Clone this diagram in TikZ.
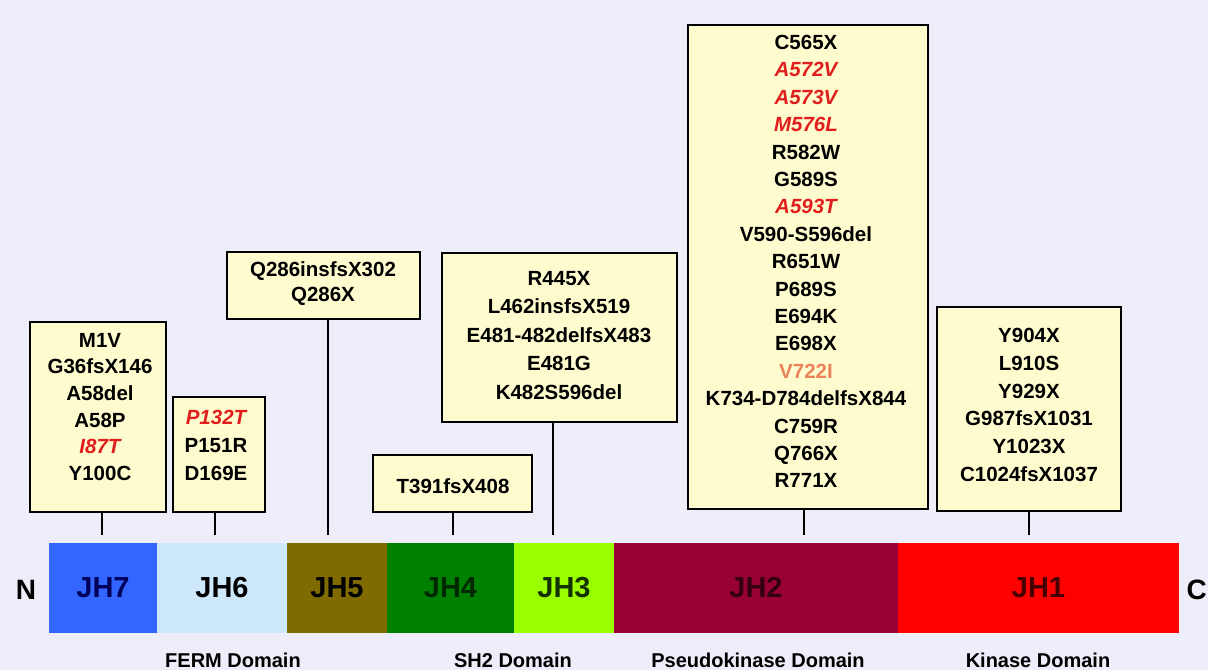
\documentclass[tikz,border=0pt]{standalone}
\usepackage{fontspec}
\setmainfont{Liberation Sans}
\definecolor{bg}{RGB}{237,238,249}
\definecolor{boxfill}{RGB}{254,252,206}
\definecolor{cJHseven}{RGB}{51,102,255}
\definecolor{cJHsix}{RGB}{204,232,250}
\definecolor{cJHfive}{RGB}{128,107,0}
\definecolor{cJHfour}{RGB}{0,128,0}
\definecolor{cJHthree}{RGB}{153,255,0}
\definecolor{cJHtwo}{RGB}{153,0,51}
\definecolor{cJHone}{RGB}{255,0,0}
\definecolor{redtxt}{RGB}{225,30,30}
\definecolor{orangetxt}{RGB}{235,130,90}
\newcommand\redit[1]{\textcolor{redtxt}{\itshape #1}}
\begin{document}
\begin{tikzpicture}[x=1pt,y=-1pt,
  mbox/.style={draw=black, line width=2pt, fill=boxfill, inner sep=0pt},
  mtext/.style={align=center, inner sep=0pt, anchor=north, font=\fontsize{20.5}{#1}\selectfont\bfseries},
  seg/.style={draw=none, inner sep=0pt, minimum height=90pt, font=\fontsize{29}{30}\selectfont\bfseries},
  conn/.style={line width=2pt},
  dlabel/.style={inner sep=0pt, font=\fontsize{20}{22}\selectfont\bfseries},
  endlabel/.style={inner sep=0pt, font=\fontsize{28}{30}\selectfont\bfseries}
]
\fill[bg] (0,0) rectangle (1208,670);
\useasboundingbox (0,0) rectangle (1208,670);
\clip (0,0) rectangle (1208,670);

% domain bar
\node[seg, fill=cJHseven, minimum width=108pt, text={rgb,255:red,0;green,0;blue,90}] (s7) at (103,588) {JH7};
\node[seg, fill=cJHsix, minimum width=130pt] (s6) at (222,588) {JH6};
\node[seg, fill=cJHfive, minimum width=100pt] (s5) at (337,588) {JH5};
\node[seg, fill=cJHfour, minimum width=127pt, text={rgb,255:red,0;green,40;blue,0}] (s4) at (450.5,588) {JH4};
\node[seg, fill=cJHthree, minimum width=100pt, text={rgb,255:red,20;green,50;blue,0}] (s3) at (564,588) {JH3};
\node[seg, fill=cJHtwo, minimum width=284pt, text={rgb,255:red,50;green,0;blue,15}] (s2) at (756,588) {JH2};
\node[seg, fill=cJHone, minimum width=281pt, text={rgb,255:red,70;green,0;blue,0}] (s1) at (1038.5,588) {JH1};

\node[endlabel] (nterm) at (26,590) {N};
\node[endlabel, anchor=east] (cterm) at (1207,590) {C};

% mutation boxes
\node[mbox, minimum width=136pt, minimum height=190pt] (b7) at (98,417) {};
\node[mbox, minimum width=92pt, minimum height=115pt] (b6) at (219,454.5) {};
\node[mbox, minimum width=193pt, minimum height=67pt] (b5) at (323.5,285.5) {};
\node[mbox, minimum width=159pt, minimum height=57pt] (b4) at (452.5,483.5) {};
\node[mbox, minimum width=235pt, minimum height=169pt] (b3) at (559.5,337.5) {};
\node[mbox, minimum width=240pt, minimum height=484pt] (b2) at (808,267) {};
\node[mbox, minimum width=184pt, minimum height=204pt] (b1) at (1029,409) {};

\node[mtext=26.6] (t7) at (100,333) {M1V\\G36fsX146\\A58del\\A58P\\\redit{I87T}\\Y100C};
\node[mtext=28] (t6) at (216,410) {\redit{P132T}\\P151R\\D169E};
\node[mtext=25] (t5) at (323,261) {Q286insfsX302\\Q286X};
\node[mtext=28] (t4) at (453,478) {T391fsX408};
\node[mtext=28.5] (t3) at (559,271) {R445X\\L462insfsX519\\E481-482delfsX483\\E481G\\K482S596del};
\node[mtext=27.4] (t2) at (806,35) {C565X\\\redit{A572V}\\\redit{A573V}\\\redit{M576L}\\R582W\\G589S\\\redit{A593T}\\V590-S596del\\R651W\\P689S\\E694K\\E698X\\\textcolor{orangetxt}{V722I}\\K734-D784delfsX844\\C759R\\Q766X\\R771X};
\node[mtext=27.8] (t1) at (1029,328) {Y904X\\L910S\\Y929X\\G987fsX1031\\Y1023X\\C1024fsX1037};

% connectors
\coordinate (c7) at (102,535);
\coordinate (c6) at (215,535);
\coordinate (c5) at (328,535);
\coordinate (c4) at (453,535);
\coordinate (c3) at (553,535);
\coordinate (c2) at (804,535);
\coordinate (c1) at (1029,535);
\draw[conn] (b7.south -| c7) -- (c7);
\draw[conn] (b6.south -| c6) -- (c6);
\draw[conn] (b5.south -| c5) -- (c5);
\draw[conn] (b4.south -| c4) -- (c4);
\draw[conn] (b3.south -| c3) -- (c3);
\draw[conn] (b2.south -| c2) -- (c2);
\draw[conn] (b1.south -| c1) -- (c1);

% domain labels
\node[dlabel] (lferm) at (233,660) {FERM Domain};
\node[dlabel] (lsh2) at (513,660) {SH2 Domain};
\node[dlabel] (lpk) at (758,660) {Pseudokinase Domain};
\node[dlabel] (lkin) at (1038,660) {Kinase Domain};
\end{tikzpicture}
\end{document}
